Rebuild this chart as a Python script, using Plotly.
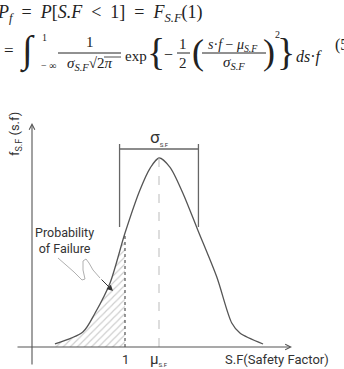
import plotly.graph_objects as go

# ---- data ----
sf_points = [-0.03, 0.38, 0.56, 0.78, 1.0, 1.22, 1.37, 1.5, 1.66, 1.85, 2.07, 2.35, 2.57, 2.69, 3.03]
density = [0.016, 0.079, 0.18, 0.339, 0.603, 0.831, 0.947, 1.0, 0.952, 0.815, 0.619, 0.37, 0.127, 0.074, 0.016]
failure_limit = 1.0
mean_sf = 1.5
sigma_half = 0.58
x_tick_labels = ["1", "μ<sub><span style='font-size:6px'>S.F</span></sub>"]
x_axis_title = "S.F(Safety Factor)"
y_axis_title = "f<sub><span style='font-size:9px'>S.F</span></sub> (s.f)"

W, H = 344, 369
# pixel <-> data mapping
PX_PER_X = 68.0
PX_PER_Y = 189.0
X0_PX, Y0_PX = 125.0, 347.0  # pixel of (sf=1, y=0)


def dx(px):
    return 1.0 + (px - X0_PX) / PX_PER_X


def dy(py):
    return (Y0_PX - py) / PX_PER_Y


xr = [dx(0), dx(W)]
yr = [dy(H), dy(0)]

fig = go.Figure()

fail_x = [x for x in sf_points if x <= failure_limit]
fail_y = [y for x, y in zip(sf_points, density) if x <= failure_limit]
fig.add_trace(go.Scatter(
    x=fail_x, y=fail_y, mode="lines", fill="tozeroy",
    line=dict(width=0, shape="spline", smoothing=0.8, color="rgba(0,0,0,0)"),
    fillcolor="rgba(255,255,255,0)",
    fillpattern=dict(shape="/", fgcolor="#9a9a9a", bgcolor="white", size=5, solidity=0.22),
    hoverinfo="skip", showlegend=False))

fig.add_trace(go.Scatter(
    x=sf_points, y=density, mode="lines",
    line=dict(color="#555555", width=1.3, shape="spline", smoothing=0.8),
    hoverinfo="skip", showlegend=False))

peak = max(density)
lim_y = density[sf_points.index(failure_limit)]

shapes = []
# dotted line at failure limit
shapes.append(dict(type="line", xref="x", yref="y", x0=failure_limit, x1=failure_limit, y0=0, y1=lim_y,
                   line=dict(color="#333", width=1, dash="dot")))
# dashed line at mean
shapes.append(dict(type="line", xref="x", yref="y", x0=mean_sf, x1=mean_sf, y0=0, y1=peak,
                   line=dict(color="#bbbbbb", width=1, dash="dash")))
# sigma bracket
bl, br = mean_sf - sigma_half, mean_sf + sigma_half
for xx in (bl, br):
    shapes.append(dict(type="line", xref="x", yref="y", x0=xx, x1=xx, y0=dy(144), y1=dy(227),
                       line=dict(color="#666", width=1.3)))
shapes.append(dict(type="line", xref="x", yref="y", x0=bl, x1=br, y0=dy(149), y1=dy(149),
                   line=dict(color="#666", width=1.3)))

# squiggle callout line
sq_px = [(58, 258), (66, 265), (74, 272), (82, 280), (85, 279), (83, 270), (83, 261), (86, 259),
         (89, 263), (93, 270), (100, 278)]
path = "M " + " L ".join(f"{dx(a):.4f},{dy(b):.4f}" for a, b in sq_px)
shapes.append(dict(type="path", xref="x", yref="y", path=path,
                   line=dict(color="#b0b0b0", width=1)))

# ---- equation: helper in paper coords ----
def P(px, py):
    return px / W, 1 - py / H

# fraction bars and overline
for x0p, x1p, yp in [(58, 121, 53), (177, 190, 53), (202, 266, 53)]:
    a0, b0 = P(x0p, yp)
    a1, _ = P(x1p, yp)
    shapes.append(dict(type="line", xref="paper", yref="paper", x0=a0, x1=a1, y0=b0, y1=b0,
                       line=dict(color="#222", width=1)))
a0, b0 = P(104, 57)
a1, _ = P(121, 57)
shapes.append(dict(type="line", xref="paper", yref="paper", x0=a0, x1=a1, y0=b0, y1=b0,
                   line=dict(color="#222", width=0.8)))

ann = []
SERIF = "Liberation Serif"
SANS = "Roboto"


def T(text, px, py, size, xanchor="center", font=SERIF, color="#222"):
    x, y = P(px, py)
    ann.append(dict(text=text, x=x, y=y, xref="paper", yref="paper", xanchor=xanchor, yanchor="middle",
                    showarrow=False, font=dict(family=font, size=size, color=color)))


T("<i>P</i><sub><i>f</i></sub>&nbsp;&nbsp;=&nbsp;&nbsp;<i>P</i>[<i>S.F</i>&nbsp;&nbsp;&lt;&nbsp;&nbsp;1]&nbsp;&nbsp;=&nbsp;&nbsp;<i>F</i><sub><i>S.F</i></sub>(1)",
  -5, 14, 18, "left")
T("=", 9, 51, 17)
T("∫", 27, 51, 38)
T("1", 44, 37, 10)
T("− ∞", 48, 66, 10)
T("1", 90, 42, 15)
T("<i>σ</i><sub><i>S.F</i></sub>√2<i>π</i>", 89, 64, 15)
T("exp", 136, 56, 15)
T("{", 156, 52, 38)
T("−", 168, 54, 16)
T("1", 183, 44, 15)
T("2", 183, 63, 15)
T("(", 198, 52, 36)
T("<i>s</i>·<i>f</i> − <i>μ</i><sub><i>S.F</i></sub>", 233, 45, 14)
T("<i>σ</i><sub><i>S.F</i></sub>", 234, 63, 15)
T(")", 269, 52, 36)
T("2", 277, 35, 10)
T("}", 286, 52, 38)
T("<i>ds</i>·<i>f</i>", 309, 57, 16)
T("(5", 333, 45, 16, "left")

# ---- chart texts ----
ann.append(dict(text="σ<sub><span style='font-size:6px'>S.F</span></sub>", x=mean_sf, y=dy(137), xref="x", yref="y",
                showarrow=False, font=dict(family=SANS, size=17, color="#333")))
ann.append(dict(text=x_tick_labels[0], x=failure_limit, y=dy(359), xref="x", yref="y",
                showarrow=False, font=dict(family=SANS, size=13, color="#333")))
ann.append(dict(text=x_tick_labels[1], x=mean_sf, y=dy(359), xref="x", yref="y",
                showarrow=False, font=dict(family=SANS, size=15, color="#333")))
ann.append(dict(text=x_axis_title, x=dx(331), y=dy(359), xref="x", yref="y", xanchor="right",
                showarrow=False, font=dict(family=SANS, size=13, color="#333")))
ann.append(dict(text=y_axis_title, x=dx(15), y=dy(134), xref="x", yref="y", textangle=-90,
                showarrow=False, font=dict(family=SANS, size=13, color="#333")))
ann.append(dict(text="Probability<br>of Failure", x=dx(64), y=dy(240), xref="x", yref="y",
                showarrow=False, align="center", font=dict(family=SANS, size=12.5, color="#333")))

# axes with arrows
ann.append(dict(x=dx(292), y=0, ax=dx(16), ay=0, xref="x", yref="y", axref="x", ayref="y", text="",
                showarrow=True, arrowhead=5, arrowsize=1, arrowwidth=1.1, arrowcolor="#555"))
ann.append(dict(x=dx(32), y=dy(123), ax=dx(32), ay=dy(366), xref="x", yref="y", axref="x", ayref="y", text="",
                showarrow=True, arrowhead=5, arrowsize=1, arrowwidth=1.1, arrowcolor="#555"))
# callout arrow head
ann.append(dict(x=dx(113), y=dy(291), ax=dx(100), ay=dy(278), xref="x", yref="y", axref="x", ayref="y", text="",
                showarrow=True, arrowhead=2, arrowsize=1.2, arrowwidth=1, arrowcolor="#333"))

fig.update_layout(
    width=W, height=H, margin=dict(l=0, r=0, t=0, b=0),
    paper_bgcolor="white", plot_bgcolor="white",
    xaxis=dict(range=xr, visible=False, fixedrange=True),
    yaxis=dict(range=yr, visible=False, fixedrange=True),
    shapes=shapes, annotations=ann, showlegend=False,
)

fig.write_html("out.html")
